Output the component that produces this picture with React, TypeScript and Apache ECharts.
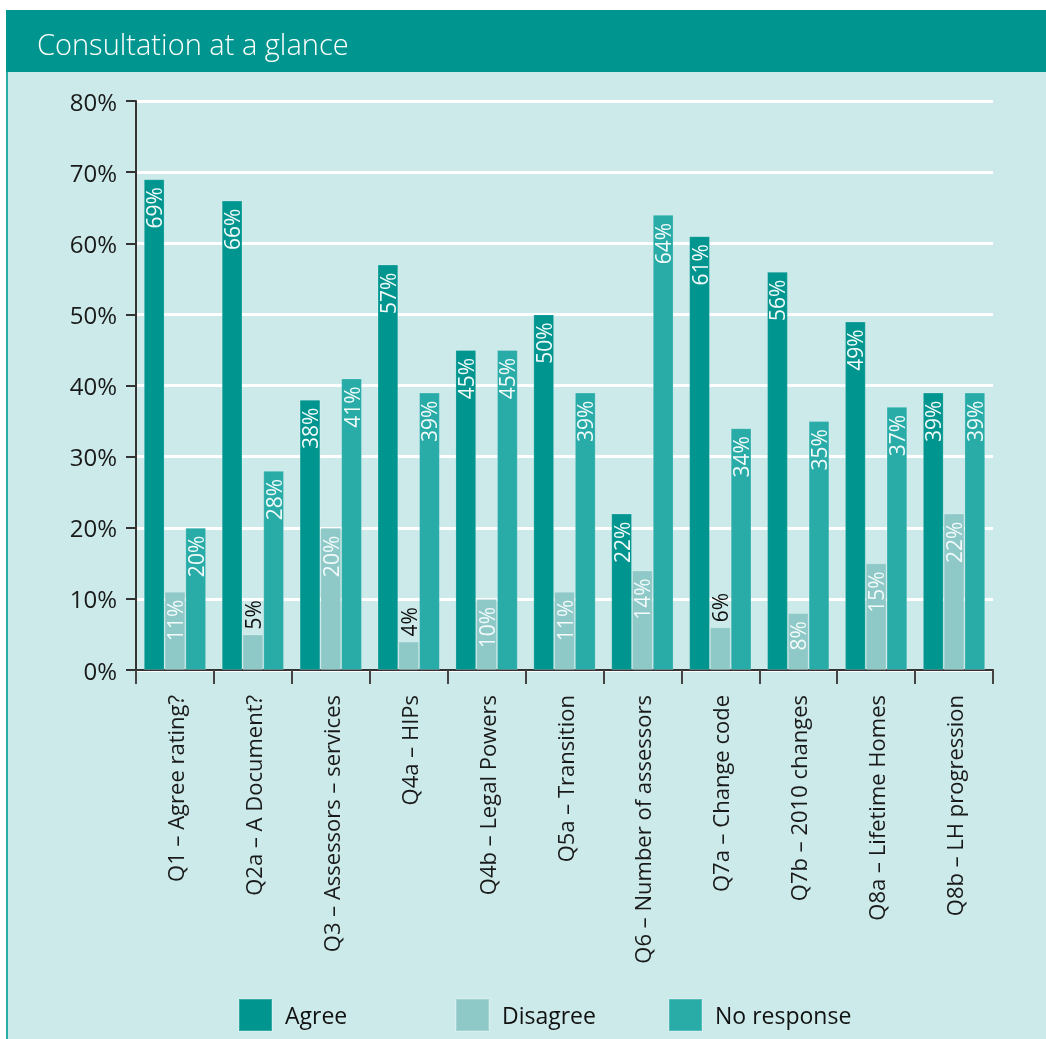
import React, { useEffect, useRef } from "react";
import * as echarts from "echarts";

const categories = [
  "Q1 – Agree rating?",
  "Q2a – A Document?",
  "Q3 – Assessors – services",
  "Q4a – HIPs",
  "Q4b – Legal Powers",
  "Q5a – Transition",
  "Q6 – Number of assessors",
  "Q7a – Change code",
  "Q7b – 2010 changes",
  "Q8a – Lifetime Homes",
  "Q8b – LH progression",
];
const agree = [69, 66, 38, 57, 45, 50, 22, 61, 56, 49, 39];
const disagree = [11, 5, 20, 4, 10, 11, 14, 6, 8, 15, 22];
const noResponse = [20, 28, 41, 39, 45, 39, 64, 34, 35, 37, 39];
const seriesNames = ["Agree", "Disagree", "No response"];
const yTicks = { min: 0, max: 80, interval: 10 };

const FONT = "'Open Sans', 'Noto Sans', sans-serif";
const COLORS = ["#00968f", "#8ec9c8", "#29aca8"];
const LEGEND_LEFT = [233, 450, 663];

const insideLabel = {
  show: true,
  position: "insideTop",
  rotate: 90,
  align: "right",
  verticalAlign: "middle",
  distance: 8,
  color: "#f2fafa",
  fontSize: 21,
  fontFamily: FONT,
  formatter: "{c}%",
};
const outsideLabel = {
  show: true,
  position: "top",
  rotate: 90,
  align: "left",
  verticalAlign: "middle",
  distance: 5,
  color: "#111",
  fontSize: 21,
  fontFamily: FONT,
  formatter: "{c}%",
};

function buildData(values: number[]) {
  return values.map((v) => (v < 7 ? { value: v, label: outsideLabel } : { value: v }));
}

export default function App() {
  const ref = useRef<HTMLDivElement>(null);
  useEffect(() => {
    if (!ref.current) return;
    const chart = echarts.init(ref.current, null, { renderer: "svg" });
    const all = [agree, disagree, noResponse];
    chart.setOption({
      animation: false,
      textStyle: { fontFamily: FONT },
      graphic: [
        { type: "rect", z: -100, shape: { x: 7, y: 10, width: 1039, height: 1029 }, style: { fill: "#cceaea" } },
        { type: "rect", z: -99, shape: { x: 6, y: 10, width: 2, height: 1029 }, style: { fill: "#2aaca6" } },
        { type: "rect", z: -98, shape: { x: 6, y: 10, width: 1040, height: 62 }, style: { fill: "#00968f" } },
        {
          type: "text",
          z: 10,
          x: 37,
          y: 43,
          style: {
            text: "Consultation at a glance",
            fill: "#ffffff",
            fontSize: 29,
            fontWeight: 300,
            fontFamily: FONT,
            verticalAlign: "middle",
          },
        },
      ],
      grid: { left: 136, right: 53, top: 101, bottom: 369, containLabel: false },
      legend: seriesNames.map((name, i) => ({
        left: LEGEND_LEFT[i],
        top: 993,
        itemWidth: 33,
        itemHeight: 32,
        icon: "rect",
        textStyle: { fontSize: 23, color: "#111", fontFamily: FONT, padding: [0, 0, 0, 8] },
        data: [name],
      })),
      xAxis: {
        type: "category",
        data: categories,
        axisLine: { lineStyle: { color: "#333", width: 2 } },
        axisTick: { show: true, length: 14, alignWithLabel: false, interval: 0, lineStyle: { color: "#444", width: 2 } },
        axisLabel: { rotate: 90, interval: 0, fontSize: 22, color: "#1a1a1a", margin: 25, fontFamily: FONT },
      },
      yAxis: {
        type: "value",
        min: yTicks.min,
        max: yTicks.max,
        interval: yTicks.interval,
        axisLine: { show: true, lineStyle: { color: "#333", width: 2 } },
        axisTick: { show: true, length: 10, lineStyle: { color: "#333", width: 2 } },
        axisLabel: { formatter: "{value}%", fontSize: 24, color: "#1a1a1a", margin: 19, fontFamily: FONT },
        splitLine: { show: true, lineStyle: { color: "#ffffff", width: 3 } },
      },
      series: all.map((vals, i) => ({
        name: seriesNames[i],
        type: "bar",
        data: buildData(vals),
        barGap: "0%",
        barCategoryGap: "20%",
        itemStyle: { color: COLORS[i], borderColor: "rgba(255,255,255,0.2)", borderWidth: 1 },
        label: insideLabel,
      })),
    });
    return () => chart.dispose();
  }, []);
  return <div ref={ref} style={{ position: "fixed", left: 0, top: 0, width: 1046, height: 1039 }} />;
}
